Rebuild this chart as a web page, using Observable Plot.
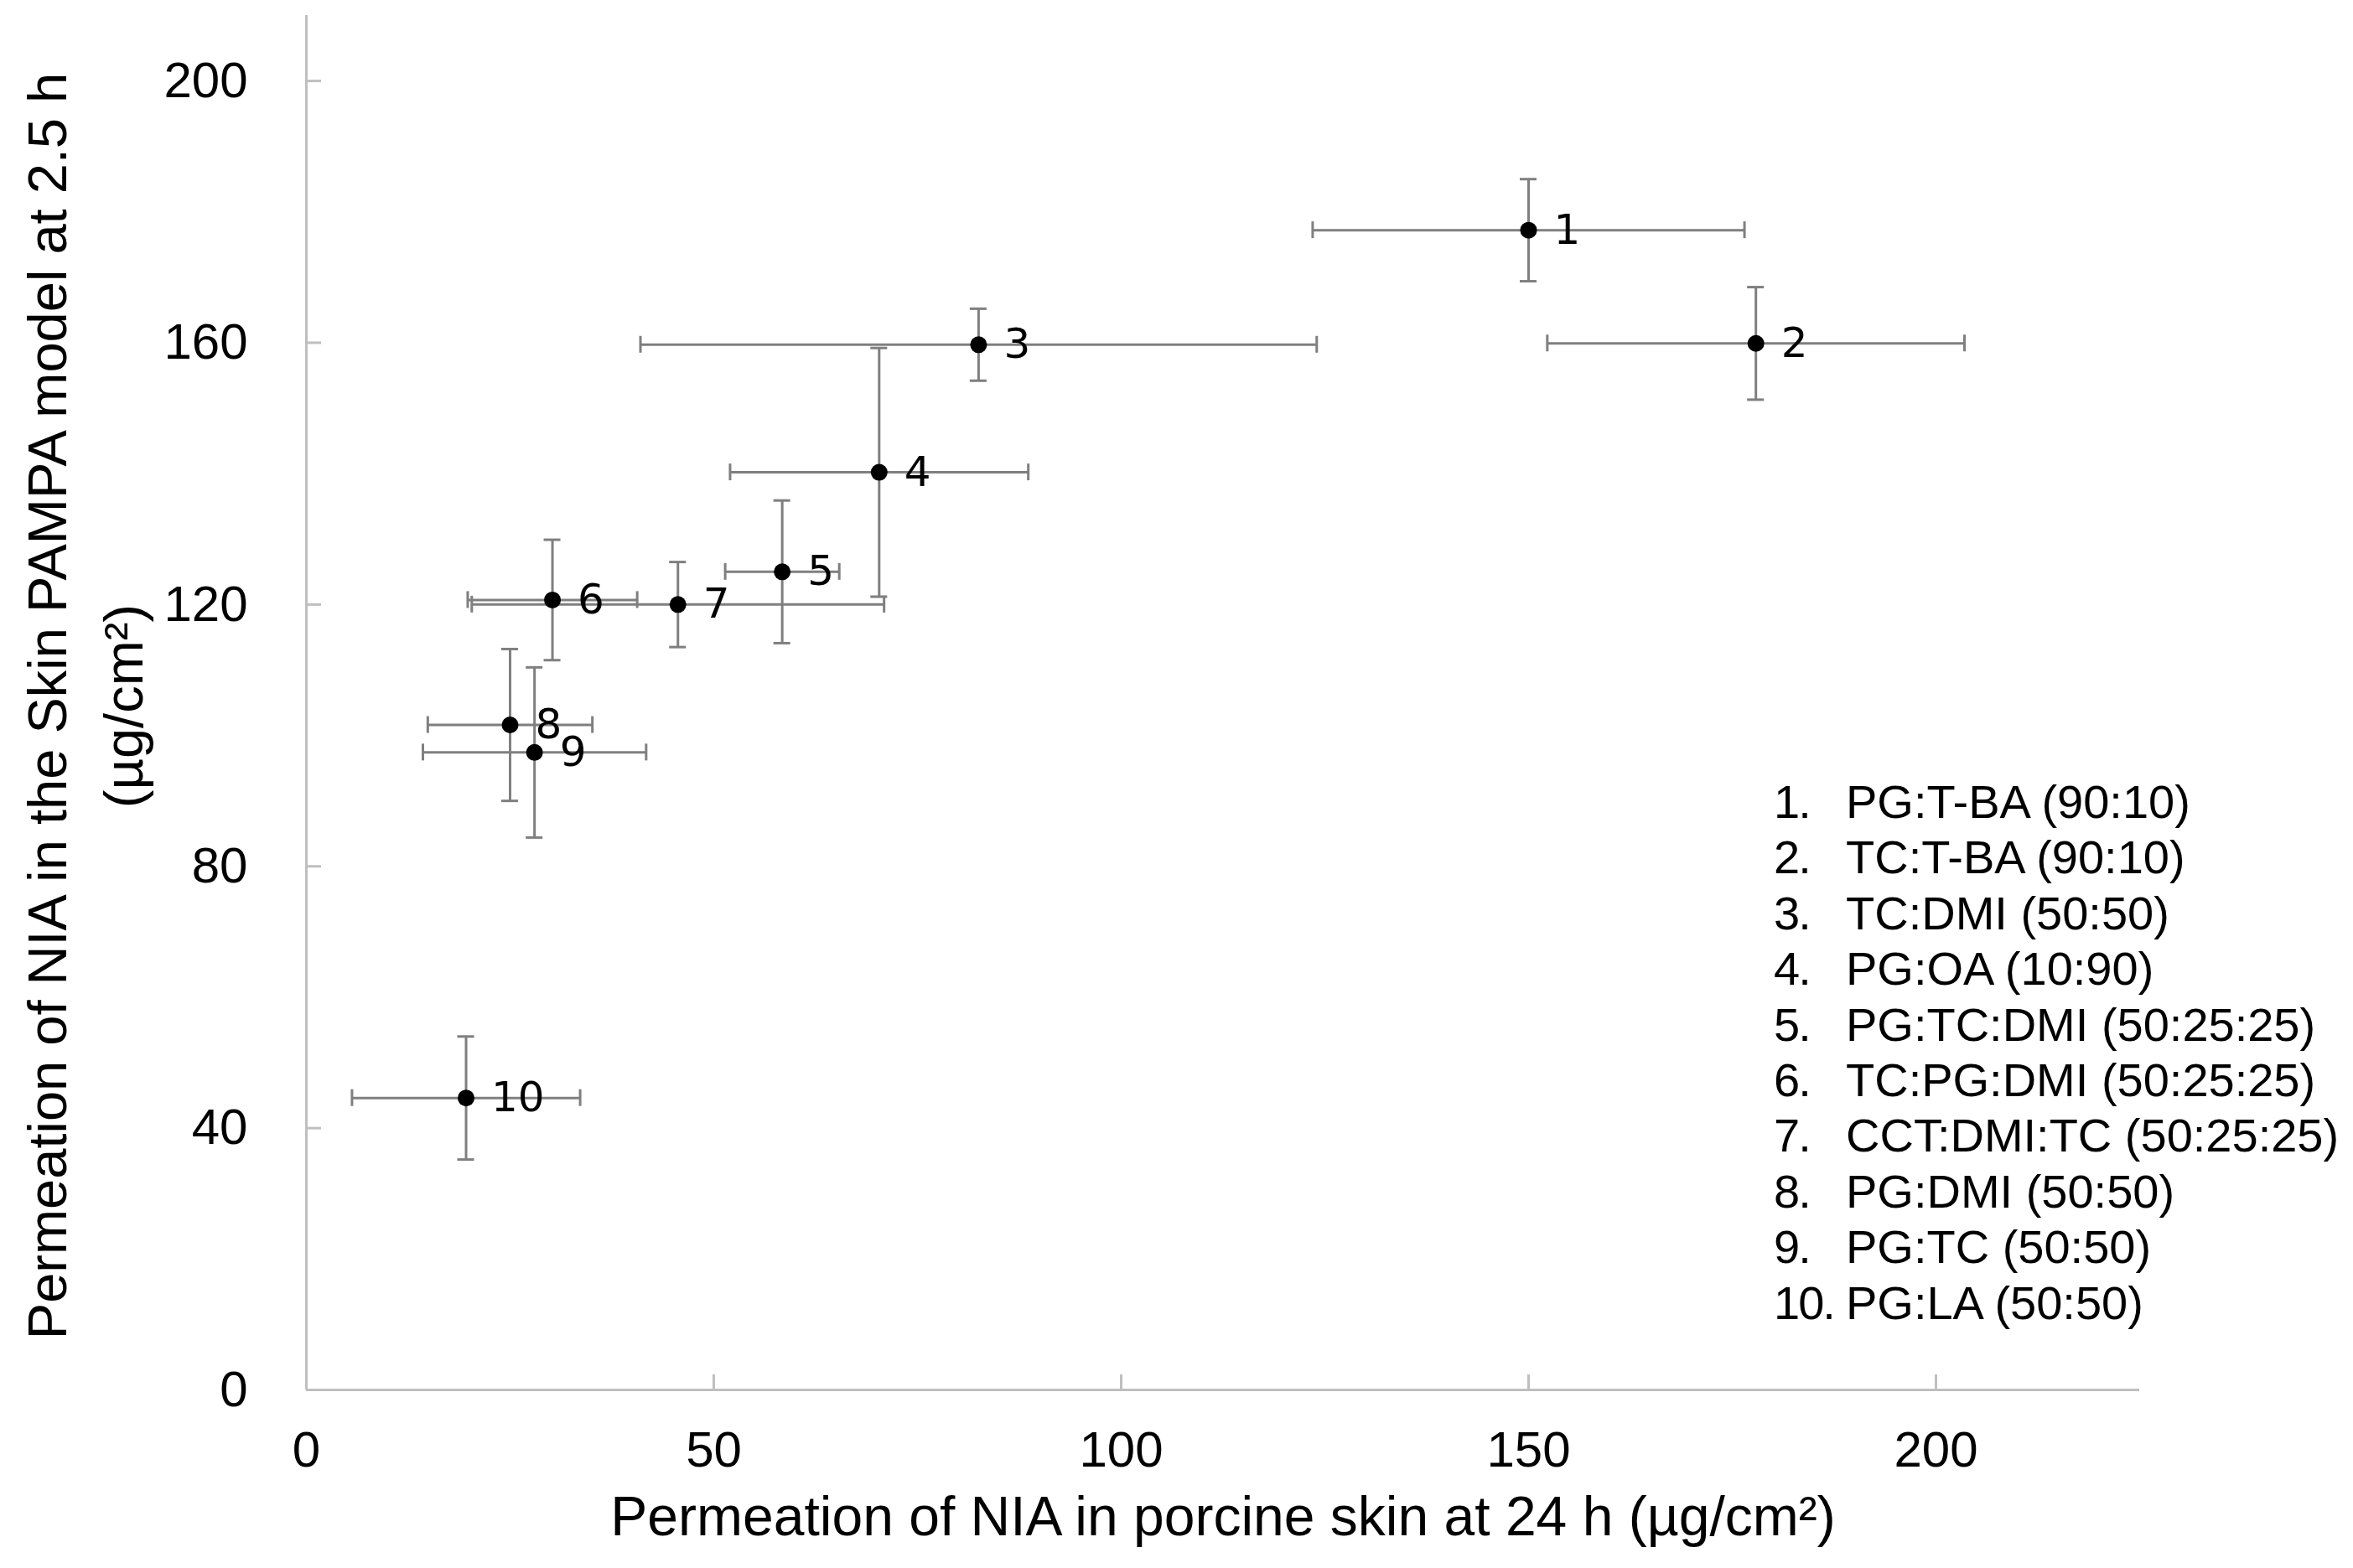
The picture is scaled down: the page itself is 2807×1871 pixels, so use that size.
<!DOCTYPE html>
<html>
<head>
<meta charset="utf-8">
<script src="https://cdn.jsdelivr.net/npm/d3@7"></script>
<script src="https://cdn.jsdelivr.net/npm/@observablehq/plot@0.6"></script>
<style>
  html, body { margin: 0; padding: 0; background: #fff; overflow: hidden; }
  #wrap { position: relative; width: 2807px; height: 1871px; }
  #legend {
    position: absolute; left: 2116px; top: 924px;
    font-family: "Liberation Sans", Arial, sans-serif; font-size: 56px; line-height: 66.4px;
    color: #000; display: grid; grid-template-columns: 86px auto; white-space: nowrap;
  }
  #legend .num { letter-spacing: -2px; }
</style>
</head>
<body>
<div id="wrap"><div id="legend"></div></div>
<script>
const labels = ["1", "2", "3", "4", "5", "6", "7", "8", "9", "10"];
const formulations = [
  "PG:T-BA (90:10)", "TC:T-BA (90:10)", "TC:DMI (50:50)", "PG:OA (10:90)",
  "PG:TC:DMI (50:25:25)", "TC:PG:DMI (50:25:25)", "CCT:DMI:TC (50:25:25)",
  "PG:DMI (50:50)", "PG:TC (50:50)", "PG:LA (50:50)"
];
const porcine   = [150.0, 177.9, 82.5, 70.3, 58.4, 30.2, 45.6, 25.0, 28.0, 19.6];
const porcineSD = [26.5, 25.6, 41.5, 18.3, 7.0, 10.4, 25.3, 10.1, 13.7, 14.0];
const pampa     = [177.2, 159.9, 159.7, 140.2, 125.0, 120.7, 120.0, 101.6, 97.4, 44.6];
const pampaSD   = [7.8, 8.6, 5.5, 19.0, 10.9, 9.2, 6.5, 11.6, 13.0, 9.4];
const xTicks = [0, 50, 100, 150, 200];
const yTicks = [0, 40, 80, 120, 160, 200];
const xTitle = "Permeation of NIA in porcine skin at 24 h (µg/cm²)";
const yTitle = ["Permeation of NIA in the Skin PAMPA model at 2.5 h", "(µg/cm²)"];

const data = labels.map((l, i) => ({
  label: l, x: porcine[i], xe: porcineSD[i], y: pampa[i], ye: pampaSD[i]
}));

const axisGray = "#bfbfbf";
const barGray = "#7f7f7f";
const sans = "Liberation Sans, Arial, sans-serif";

const chart = Plot.plot({
  width: 2807,
  height: 1871,
  marginLeft: 365,
  marginRight: 255,
  marginTop: 18,
  marginBottom: 213,
  style: { fontFamily: sans, background: "#fff", color: "#000" },
  x: { domain: [0, 225] },
  y: { domain: [0, 210] },
  marks: [
    Plot.ruleX([0], { stroke: axisGray, strokeWidth: 3 }),
    Plot.ruleY([0], { stroke: axisGray, strokeWidth: 3 }),
    Plot.axisY({ ticks: yTicks.slice(1), tickSize: 18, dx: 18, tickFormat: () => "", stroke: axisGray, strokeWidth: 3, label: null }),
    Plot.axisX({ ticks: xTicks.slice(1), tickSize: 18, dy: -18, tickFormat: () => "", stroke: axisGray, strokeWidth: 3, label: null }),
    Plot.axisY({ ticks: yTicks, tickSize: 0, tickPadding: 70, fontSize: 60, fill: "#000", label: null }),
    Plot.axisX({ ticks: xTicks, tickSize: 0, tickPadding: 49, fontSize: 60, fill: "#000", label: null }),
    // horizontal error bars + caps
    Plot.ruleY(data, { y: "y", x1: d => d.x - d.xe, x2: d => d.x + d.xe, stroke: barGray, strokeWidth: 3 }),
    Plot.ruleX(data, { x: d => d.x - d.xe, y1: "y", y2: "y", insetTop: -10, insetBottom: -10, stroke: barGray, strokeWidth: 3 }),
    Plot.ruleX(data, { x: d => d.x + d.xe, y1: "y", y2: "y", insetTop: -10, insetBottom: -10, stroke: barGray, strokeWidth: 3 }),
    // vertical error bars + caps
    Plot.ruleX(data, { x: "x", y1: d => d.y - d.ye, y2: d => d.y + d.ye, stroke: barGray, strokeWidth: 3 }),
    Plot.ruleY(data, { y: d => d.y - d.ye, x1: "x", x2: "x", insetLeft: -10, insetRight: -10, stroke: barGray, strokeWidth: 3 }),
    Plot.ruleY(data, { y: d => d.y + d.ye, x1: "x", x2: "x", insetLeft: -10, insetRight: -10, stroke: barGray, strokeWidth: 3 }),
    Plot.dot(data, { x: "x", y: "y", r: 10, fill: "#000", stroke: null }),
    Plot.text(data, { x: "x", y: "y", text: "label", textAnchor: "start", dx: 30, fontSize: 50, fontFamily: "DejaVu Sans", fill: "#000" }),
    Plot.text([xTitle], { frameAnchor: "bottom", dy: 152, lineAnchor: "middle", textAnchor: "middle", fontSize: 66, fill: "#000" }),
    Plot.text([yTitle.join("\n")], { frameAnchor: "left", rotate: -90, dx: -270, dy: 4, lineAnchor: "middle", textAnchor: "middle", lineHeight: 1.4, fontSize: 65, fill: "#000" })
  ]
});

const wrap = document.getElementById("wrap");
wrap.insertBefore(chart, wrap.firstChild);

const legend = document.getElementById("legend");
labels.forEach((l, i) => {
  const a = document.createElement("div"); a.className = "num"; a.textContent = l + ".";
  const b = document.createElement("div"); b.textContent = formulations[i];
  legend.appendChild(a); legend.appendChild(b);
});
</script>
</body>
</html>
